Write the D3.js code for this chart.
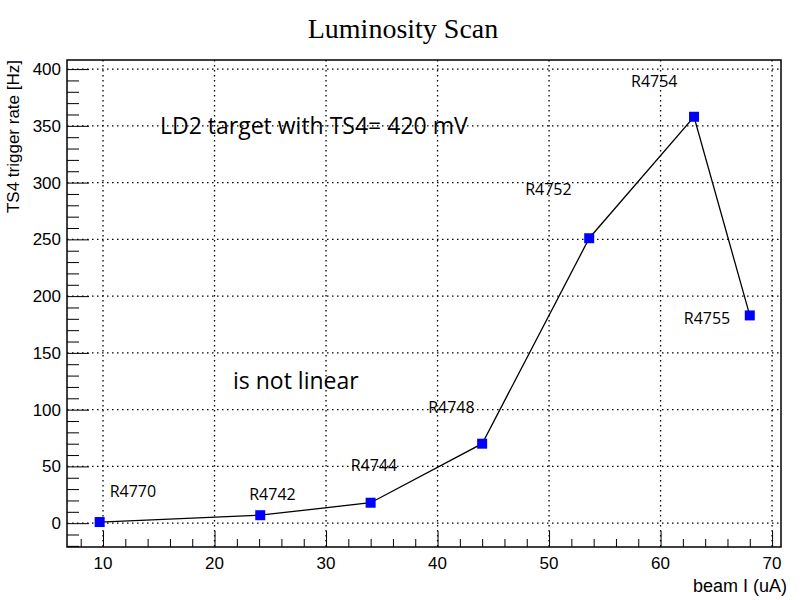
<!DOCTYPE html><html><head><script src="https://cdn.jsdelivr.net/npm/d3@7"></script>
<style>body{margin:0;background:#fff}</style></head><body><svg id="c" width="800" height="600"></svg>
<script>
const xVals=[9.7,24.1,34,44,53.6,63,68];
const yVals=[1,7,18,70,251,358,183];
const runLabels=["R4770","R4742","R4744","R4748","R4752","R4754","R4755"];
const labelOffsets=[[10,-25],[-11,-15],[-20,-32],[-54,-31],[-64,-43],[-63,-30],[-66,9]];
const xTicks=[10,20,30,40,50,60,70];
const yTicks=[0,50,100,150,200,250,300,350,400];
const svg=d3.select("#c");
const L=67,R=781,T=60,B=547;
const x=d3.scaleLinear().domain([6.77,70.8]).range([L,R]);
const y=d3.scaleLinear().domain([-21,408]).range([B,T]);
svg.append("g").selectAll("line").data(xTicks).join("line").attr("x1",d=>x(d)).attr("x2",d=>x(d)).attr("y1",T).attr("y2",B).attr("stroke","#000").attr("stroke-width",1.3).attr("stroke-dasharray","1.5,3.5");
svg.append("g").selectAll("line").data(yTicks).join("line").attr("y1",d=>y(d)).attr("y2",d=>y(d)).attr("x1",L).attr("x2",R).attr("stroke","#000").attr("stroke-width",1.3).attr("stroke-dasharray","1.5,3.5");
svg.append("rect").attr("x",L).attr("y",T).attr("width",R-L).attr("height",B-T).attr("fill","none").attr("stroke","#000").attr("stroke-width",1.5);
const xa=svg.append("g").attr("transform",`translate(0,${B})`).call(d3.axisTop(x).tickValues(d3.range(8,71,2)).tickSize(8).tickFormat(""));
xa.selectAll("line").attr("y2",d=>d%10===0?-16:-8);
xa.select(".domain").remove();
const ya=svg.append("g").attr("transform",`translate(${L},0)`).call(d3.axisRight(y).tickValues(d3.range(-20,401,10)).tickSize(12).tickFormat(""));
ya.selectAll("line").attr("x2",d=>d%50===0?22:12);
ya.select(".domain").remove();
svg.append("g").selectAll("text").data(xTicks).join("text").attr("x",d=>x(d)).attr("y",B+22).attr("text-anchor","middle").attr("font-family","Liberation Sans, Arial").attr("font-size",17).text(d=>d);
svg.append("g").selectAll("text").data(yTicks).join("text").attr("x",L-6).attr("y",d=>y(d)+6).attr("text-anchor","end").attr("font-family","Liberation Sans, Arial").attr("font-size",17).text(d=>d);
svg.append("text").attr("x",787).attr("y",592).attr("text-anchor","end").attr("font-family","Liberation Sans, Arial").attr("font-size",18).text("beam I (uA)");
svg.append("text").attr("transform",`translate(19,${T}) rotate(-90)`).attr("text-anchor","end").attr("font-family","Liberation Sans, Arial").attr("font-size",17).text("TS4 trigger rate [Hz]");
svg.append("text").attr("x",403).attr("y",38).attr("text-anchor","middle").attr("font-family","Liberation Serif, Times New Roman").attr("font-size",28).text("Luminosity Scan");
const pts=xVals.map((v,i)=>[v,yVals[i]]);
svg.append("path").attr("d",d3.line().x(d=>x(d[0])).y(d=>y(d[1]))(pts)).attr("fill","none").attr("stroke","#000").attr("stroke-width",1.3);
svg.append("g").selectAll("rect").data(pts).join("rect").attr("x",d=>x(d[0])-5).attr("y",d=>y(d[1])-5).attr("width",10).attr("height",10).attr("fill","#0000ff");
svg.append("g").selectAll("text").data(pts).join("text").attr("x",(d,i)=>x(d[0])+labelOffsets[i][0]).attr("y",(d,i)=>y(d[1])+labelOffsets[i][1]).attr("font-family","Open Sans, Noto Sans").attr("font-size",16).text((d,i)=>runLabels[i]);
svg.append("text").attr("x",160).attr("y",134).attr("font-family","Open Sans, Noto Sans").attr("font-size",23).text("LD2 target with TS4= 420 mV");
svg.append("text").attr("x",233).attr("y",389).attr("font-family","Open Sans, Noto Sans").attr("font-size",23).text("is not linear");
</script></body></html>
